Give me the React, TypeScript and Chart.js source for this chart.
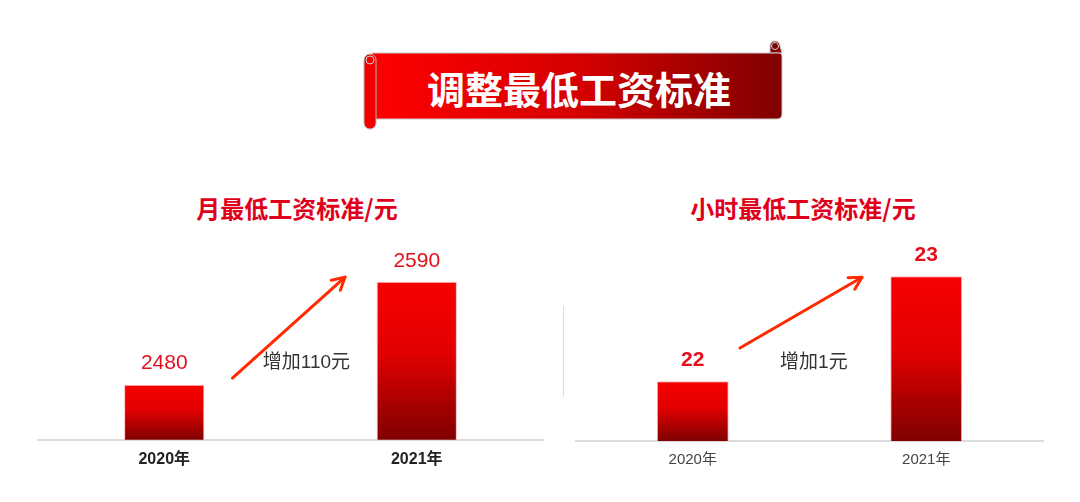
import React, { useEffect, useRef } from "react";
import { Chart, registerables } from "chart.js";
Chart.register(...registerables);

const categories = ["2020年", "2021年"];
const monthlyValues = [2480, 2590];
const hourlyValues = [22, 23];
const monthlyIncrease = "增加110元";
const hourlyIncrease = "增加1元";
const mainTitle = "调整最低工资标准";
const monthlyTitle = "月最低工资标准/元";
const hourlyTitle = "小时最低工资标准/元";

const FONT = '"Liberation Sans", "Noto Sans CJK SC", sans-serif';
const CJK = '"Noto Sans CJK SC", "Liberation Sans", sans-serif';

const annotPlugin = {
  id: "annot",
  afterDatasetsDraw(chart: any, _args: any, opts: any) {
    const ctx = chart.ctx;
    const meta = chart.getDatasetMeta(0);
    const ds = chart.data.datasets[0];
    const xs = chart.scales.x;
    const ys = chart.scales.y;
    ctx.save();
    ctx.font = opts.valueFont;
    ctx.fillStyle = opts.valueColor;
    ctx.textAlign = "center";
    ctx.textBaseline = "middle";
    meta.data.forEach((bar: any, i: number) => {
      ctx.fillText(String(ds.data[i]), bar.x, bar.y - opts.valueOffset);
    });
    const x0 = xs.getPixelForValue(0);
    const x1 = xs.getPixelForValue(1);
    const px = (v: number) => x0 + v * (x1 - x0);
    const py = (v: number) => ys.getPixelForValue(v);
    const ax = px(opts.arrowFrom[0]);
    const ay = py(opts.arrowFrom[1]);
    const bx = px(opts.arrowTo[0]);
    const by = py(opts.arrowTo[1]);
    ctx.strokeStyle = "#ff2a00";
    ctx.lineWidth = 3;
    ctx.lineCap = "round";
    ctx.lineJoin = "round";
    ctx.beginPath();
    ctx.moveTo(ax, ay);
    ctx.lineTo(bx, by);
    ctx.stroke();
    const ang = Math.atan2(by - ay, bx - ax);
    const hl = 14;
    ctx.beginPath();
    ctx.moveTo(bx - hl * Math.cos(ang - 0.5), by - hl * Math.sin(ang - 0.5));
    ctx.lineTo(bx, by);
    ctx.lineTo(bx - hl * Math.cos(ang + 0.5), by - hl * Math.sin(ang + 0.5));
    ctx.stroke();
    ctx.font = opts.noteFont;
    ctx.fillStyle = "#333333";
    ctx.textAlign = "left";
    ctx.fillText(opts.note, px(opts.notePos[0]), py(opts.notePos[1]));
    ctx.restore();
  },
};

function barGradient(c: any) {
  const chart = c.chart;
  const area = chart.chartArea;
  if (!area || c.type !== "data") return "#e00000";
  const ys = chart.scales.y;
  const top = ys.getPixelForValue(c.raw);
  const g = chart.ctx.createLinearGradient(0, top, 0, area.bottom);
  g.addColorStop(0, "#f70000");
  g.addColorStop(0.45, "#e20000");
  g.addColorStop(1, "#800000");
  return g;
}

function makeConfig(values: number[], p: any): any {
  return {
    type: "bar",
    data: {
      labels: categories,
      datasets: [
        {
          data: values,
          backgroundColor: barGradient,
          borderColor: "rgba(255,160,160,0.7)",
          borderWidth: 1,
          barPercentage: p.barPct,
          categoryPercentage: 1,
        },
      ],
    },
    options: {
      animation: false,
      responsive: false,
      maintainAspectRatio: false,
      layout: { padding: p.padding },
      plugins: {
        legend: { display: false },
        tooltip: { enabled: false },
        title: { display: false },
        annot: p.annot,
      },
      scales: {
        x: {
          grid: { display: false, drawTicks: false },
          border: { display: true, color: "#dcdcdc", width: 2 },
          ticks: {
            color: p.tickColor,
            font: { family: FONT, size: p.tickSize, weight: p.tickWeight },
            padding: 10,
          },
        },
        y: { display: false, min: p.min, max: p.max },
      },
    },
    plugins: [annotPlugin],
  };
}

function BarChart({ values, params, style }: any) {
  const ref = useRef<HTMLCanvasElement>(null);
  useEffect(() => {
    const chart = new Chart(ref.current as HTMLCanvasElement, makeConfig(values, params));
    return () => chart.destroy();
  }, []);
  return <canvas ref={ref} width={style.width} height={style.height} style={{ position: "absolute", ...style }} />;
}

const leftParams = {
  barPct: 0.318,
  padding: { left: 38, right: 17, top: 20, bottom: 1 },
  tickColor: "#222222",
  tickSize: 16,
  tickWeight: "bold",
  min: 2421,
  max: 2624,
  annot: {
    valueFont: `normal 21px ${FONT}`,
    valueColor: "#e3101c",
    valueOffset: 21,
    arrowFrom: [0.27, 2487],
    arrowTo: [0.716, 2595],
    note: monthlyIncrease,
    notePos: [0.39, 2503],
    noteFont: `normal 19px ${FONT}`,
  },
};

const rightParams = {
  barPct: 0.308,
  padding: { left: 16, right: 37, top: 20, bottom: 1 },
  tickColor: "#444444",
  tickSize: 15,
  tickWeight: "normal",
  min: 21.43,
  max: 23.25,
  annot: {
    valueFont: `bold 21px ${FONT}`,
    valueColor: "#e3101c",
    valueOffset: 21,
    arrowFrom: [0.202, 22.316],
    arrowTo: [0.725, 22.99],
    note: hourlyIncrease,
    notePos: [0.374, 22.18],
    noteFont: `normal 19px ${FONT}`,
  },
};

export default function App() {
  return (
    <div style={{ position: "fixed", left: 0, top: 0, width: 1080, height: 502, background: "#ffffff", overflow: "hidden" }}>
      <svg width={1080} height={502} style={{ position: "absolute", left: 0, top: 0 }}>
        <defs>
          <linearGradient id="bannerGrad" x1="0" y1="0" x2="1" y2="0">
            <stop offset="0" stopColor="#ff0000" />
            <stop offset="0.5" stopColor="#d60000" />
            <stop offset="1" stopColor="#7f0000" />
          </linearGradient>
        </defs>
        <path d="M770,53 L770,46 A5,5 0 0 1 780,46 L782,53 Z" fill="#8a0000" stroke="#c8c8c8" strokeWidth={1} />
        <circle cx={775} cy={46} r={3.5} fill="#7a0000" stroke="#d0d0d0" strokeWidth={1} />
        <path d="M372,53 L779,53 Q782,53 782,56 L782,114 Q782,119 777,119 L372,119 Z" fill="url(#bannerGrad)" stroke="#c8c8c8" strokeWidth={1} />
        <rect x={364} y={54} width={12} height={75} rx={6} ry={6} fill="#f20000" stroke="#b8b8b8" strokeWidth={1} />
        <circle cx={370} cy={60} r={4} fill="none" stroke="#d0d0d0" strokeWidth={1} />
        <text x={579} y={87} textAnchor="middle" dominantBaseline="central" fill="#ffffff" fontSize={38} fontWeight="bold" fontFamily={CJK}>
          {mainTitle}
        </text>
        <text x={297} y={207} textAnchor="middle" dominantBaseline="central" fill="#e0001b" fontSize={24} fontWeight="bold" fontFamily={CJK}>
          {monthlyTitle}
        </text>
        <text x={803} y={207} textAnchor="middle" dominantBaseline="central" fill="#e0001b" fontSize={24} fontWeight="bold" fontFamily={CJK}>
          {hourlyTitle}
        </text>
        <line x1={563.5} y1={306} x2={563.5} y2={397} stroke="#dddddd" strokeWidth={1} />
      </svg>
      <BarChart values={monthlyValues} params={leftParams} style={{ left: 0, top: 230, width: 560, height: 250 }} />
      <BarChart values={hourlyValues} params={rightParams} style={{ left: 560, top: 230, width: 520, height: 250 }} />
    </div>
  );
}
